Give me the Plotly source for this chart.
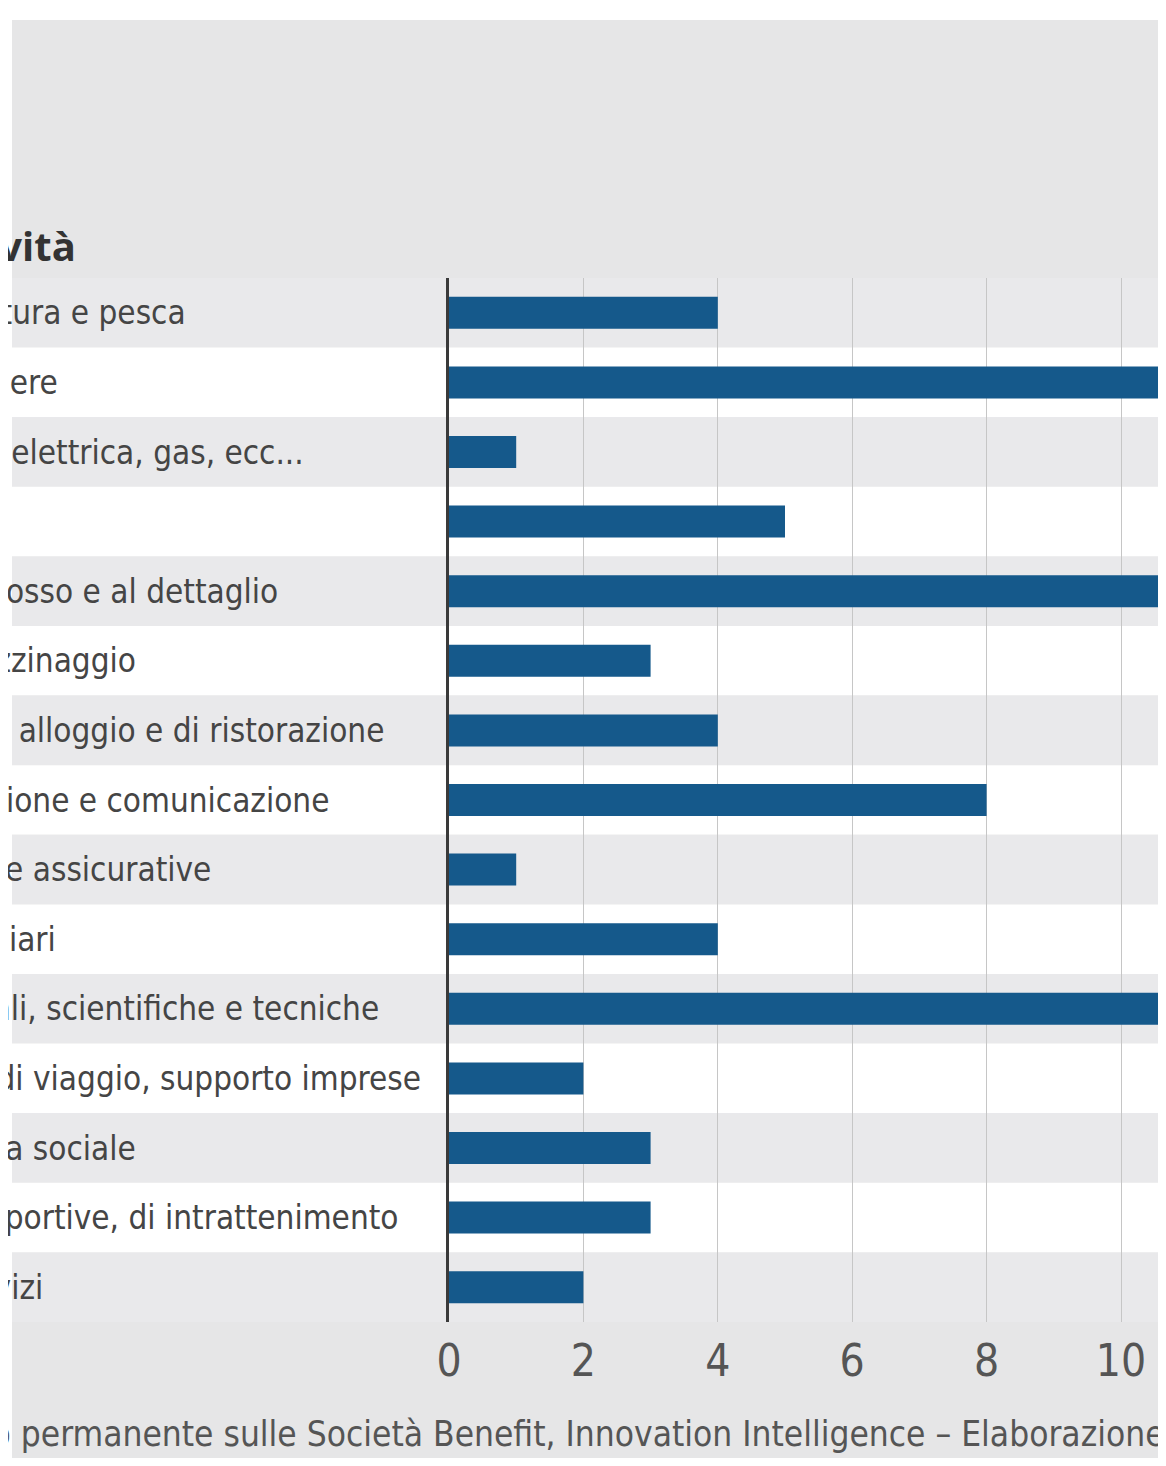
import plotly.graph_objects as go

# ---- data ----
categories = [
    "Agricoltura, silvicoltura e pesca",
    "Attività manifatturiere",
    "Fornitura di energia elettrica, gas, ecc...",
    "Costruzioni",
    "Commercio all'ingrosso e al dettaglio",
    "Trasporto e magazzinaggio",
    "Attività dei servizi di alloggio e di ristorazione",
    "Servizi di informazione e comunicazione",
    "Attività finanziarie e assicurative",
    "Attività immobiliari",
    "Attività professionali, scientifiche e tecniche",
    "Noleggio, agenzie di viaggio, supporto imprese",
    "Sanità e assistenza sociale",
    "Attività artistiche, sportive, di intrattenimento",
    "Altre attività di servizi",
]
values = [4, 12, 1, 5, 11, 3, 4, 8, 1, 4, 16, 2, 3, 3, 2]
tick_values = [0, 2, 4, 6, 8, 10]
tick_labels = ["0", "2", "4", "6", "8", "10"]
title_text = "Settore di attività"
source_text = ("Fonte: Osservatorio permanente sulle Società Benefit, Innovation Intelligence "
               "– Elaborazione Il Sole 24 Ore")

# ---- layout (figure pixels; the page adds an 8px body margin) ----
W, H = 1150, 1450
ML, MR, MT, MB = 441, 0, 270, 136
PW, PH = W - ML - MR, H - MT - MB
UNIT_PX = 67.2                      # pixels per x unit
X_MAX = PW / UNIT_PX

# right end (figure px) of each row label; labels run off the left edge
label_right_px = [180, 52, 298, -8, 272, 130, 378, 323, 205, 50, 373, 415, 130, 393, 37]

def px_x(fx):
    return (fx - ML) / PW

def px_y(fy):
    return (H - MB - fy) / PH

NARROW = "DejaVu Sans Condensed, Liberation Sans Narrow, sans-serif"
BAR = "#15598b"
GREY = "#e6e6e7"
STRIPE = "#e9e9eb"

fig = go.Figure()
fig.add_trace(go.Bar(
    x=values, y=categories, orientation="h",
    marker=dict(color=BAR, line=dict(width=0)),
    width=0.46, hoverinfo="x+y",
))

shapes = [
    dict(type="rect", xref="paper", yref="paper",
         x0=px_x(-20), x1=px_x(4), y0=px_y(H + 20), y1=px_y(-20),
         fillcolor="#ffffff", line=dict(width=0), layer="below"),
    dict(type="rect", xref="paper", yref="paper",
         x0=px_x(-20), x1=px_x(W + 20), y0=px_y(12), y1=px_y(-20),
         fillcolor="#ffffff", line=dict(width=0), layer="below"),
]
for i, c in enumerate(categories):
    shapes.append(dict(type="rect", xref="paper", yref="y",
                       x0=px_x(4), x1=px_x(W + 20), y0=i - 0.5, y1=i + 0.5,
                       fillcolor=STRIPE if i % 2 == 0 else "#ffffff",
                       line=dict(width=0), layer="below"))

annotations = []
for c, rx in zip(categories, label_right_px):
    annotations.append(dict(text=c, xref="paper", yref="y", x=px_x(rx), y=c,
                            xanchor="right", yanchor="middle", showarrow=False,
                            font=dict(family=NARROW, size=33, color="#454545")))
annotations.append(dict(text="<b>" + title_text + "</b>", xref="paper", yref="paper",
                        x=px_x(70), y=px_y(237), xanchor="right", yanchor="middle",
                        showarrow=False,
                        font=dict(family="Open Sans, sans-serif", size=40, color="#333333")))
annotations.append(dict(text=source_text, xref="paper", yref="paper",
                        x=px_x(-308), y=px_y(1426), xanchor="left", yanchor="middle",
                        showarrow=False,
                        font=dict(family=NARROW, size=35, color="#555555")))

fig.update_layout(
    width=W, height=H,
    margin=dict(l=ML, r=MR, t=MT, b=MB, pad=0),
    paper_bgcolor=GREY, plot_bgcolor="rgba(0,0,0,0)",
    showlegend=False, bargap=0.54,
    shapes=shapes, annotations=annotations,
    xaxis=dict(range=[0, X_MAX], tickvals=tick_values, ticktext=tick_labels,
               showgrid=True, gridcolor="#c6c6c6", gridwidth=1, zeroline=False,
               showline=False, ticks="", ticklabelstandoff=9,
               tickfont=dict(family=NARROW, size=44, color="#555555"), fixedrange=True),
    yaxis=dict(autorange="reversed", showticklabels=False, showgrid=False,
               zeroline=False, showline=True, linecolor="#3a3a3a", linewidth=3,
               ticks="", fixedrange=True),
)

fig.write_html("out.html")
